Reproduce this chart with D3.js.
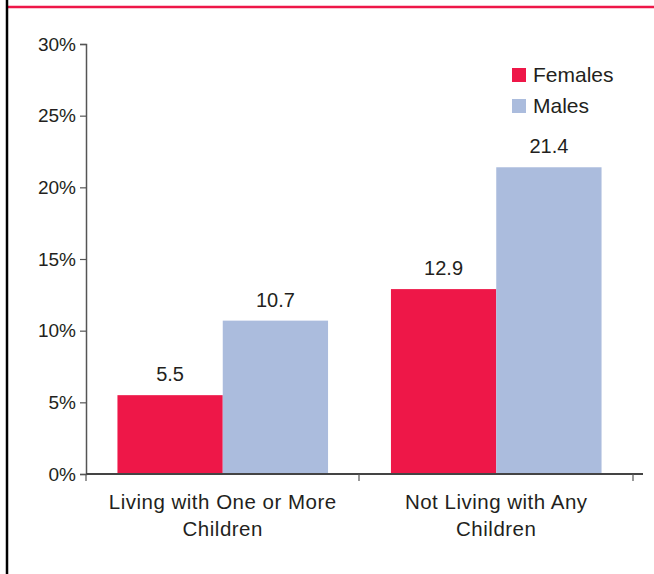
<!DOCTYPE html>
<html>
<head>
<meta charset="utf-8">
<script src="https://cdn.jsdelivr.net/npm/d3@7"></script>
<style>
  body { margin: 0; background: #fff; }
  text { font-family: "Liberation Sans", Arial, sans-serif; fill: #231f20; }
</style>
</head>
<body>
<svg width="654" height="574"></svg>
<script>
// Data
const categories = ['Living with One or More|Children', 'Not Living with Any|Children'];
const seriesNames = ['Females', 'Males'];
const females = [5.5, 12.9];
const males = [10.7, 21.4];
const yTicks = [0, 5, 10, 15, 20, 25, 30];
const colors = ['#ee1748', '#abbcdd'];

const svg = d3.select('svg'),
  width = +svg.attr('width'),
  height = +svg.attr('height');

// frame lines
svg.append('line')
  .attr('x1', 7).attr('x2', width).attr('y1', 7).attr('y2', 7)
  .style('stroke', '#ee1748').style('stroke-width', 2.5);
svg.append('line')
  .attr('x1', 7).attr('x2', 7).attr('y1', 0).attr('y2', height)
  .style('stroke', '#000').style('stroke-width', 2.5);

// scales
const x0 = d3.scaleBand()
  .domain(categories)
  .range([86, 633])
  .paddingInner(0.23)
  .paddingOuter(0.115);
const x1 = d3.scaleBand()
  .domain(seriesNames)
  .range([0, x0.bandwidth()]);
const y = d3.scaleLinear().domain([0, 30]).range([474, 44]);

// y axis
const yAxis = d3.axisLeft(y)
  .tickValues(yTicks)
  .tickSize(6)
  .tickFormat(d => d + '%');
const gy = svg.append('g').attr('transform', 'translate(86,0)').call(yAxis);
gy.select('.domain').style('stroke', '#555').style('stroke-width', 1.5);
gy.selectAll('.tick line').style('stroke', '#555').style('stroke-width', 1.2);
gy.selectAll('.tick text')
  .attr('x', -10)
  .style('font-size', '19px')
  .style('font-family', '"Liberation Sans", Arial, sans-serif')
  .style('fill', '#231f20');

// bars
const rows = categories.map((c, i) => ({ cat: c, values: [females[i], males[i]] }));
const groups = svg.append('g')
  .selectAll('g')
  .data(rows)
  .enter()
  .append('g')
  .attr('transform', d => `translate(${x0(d.cat)},0)`);

groups.selectAll('rect')
  .data(d => d.values.map((v, j) => ({ name: seriesNames[j], v: v, j: j })))
  .enter()
  .append('rect')
  .attr('x', d => x1(d.name))
  .attr('y', d => y(d.v))
  .attr('width', x1.bandwidth())
  .attr('height', d => y(0) - y(d.v))
  .style('fill', d => colors[d.j]);

groups.selectAll('text.val')
  .data(d => d.values.map((v, j) => ({ name: seriesNames[j], v: v })))
  .enter()
  .append('text')
  .attr('class', 'val')
  .attr('x', d => x1(d.name) + x1.bandwidth() / 2)
  .attr('y', d => y(d.v) - 14)
  .attr('text-anchor', 'middle')
  .style('font-size', '20px')
  .text(d => d.v.toFixed(1));

// x axis
const xTickPos = [86, 359, 633];
const gx = svg.append('g');
gx.append('line')
  .attr('x1', 86).attr('x2', 643).attr('y1', y(0)).attr('y2', y(0))
  .style('stroke', '#444').style('stroke-width', 1.8);
gx.selectAll('line.tick')
  .data(xTickPos)
  .enter()
  .append('line')
  .attr('class', 'tick')
  .attr('x1', d => d).attr('x2', d => d)
  .attr('y1', y(0)).attr('y2', y(0) + 7)
  .style('stroke', '#555').style('stroke-width', 1.2);

// category labels
categories.forEach(c => {
  const lines = c.split('|');
  const t = svg.append('text')
    .attr('text-anchor', 'middle')
    .style('font-size', '20.5px')
    .style('letter-spacing', '0.5px');
  lines.forEach((l, k) => {
    t.append('tspan')
      .attr('x', x0(c) + x0.bandwidth() / 2)
      .attr('y', 509 + k * 27)
      .text(l);
  });
});

// legend
const legend = svg.append('g')
  .selectAll('g')
  .data(seriesNames)
  .enter()
  .append('g')
  .attr('transform', (d, i) => `translate(512,${68 + i * 31})`);
legend.append('rect')
  .attr('width', 14).attr('height', 14)
  .style('fill', (d, i) => colors[i]);
legend.append('text')
  .attr('x', 21).attr('y', 14)
  .style('font-size', '21px')
  .text(d => d);
</script>
</body>
</html>
